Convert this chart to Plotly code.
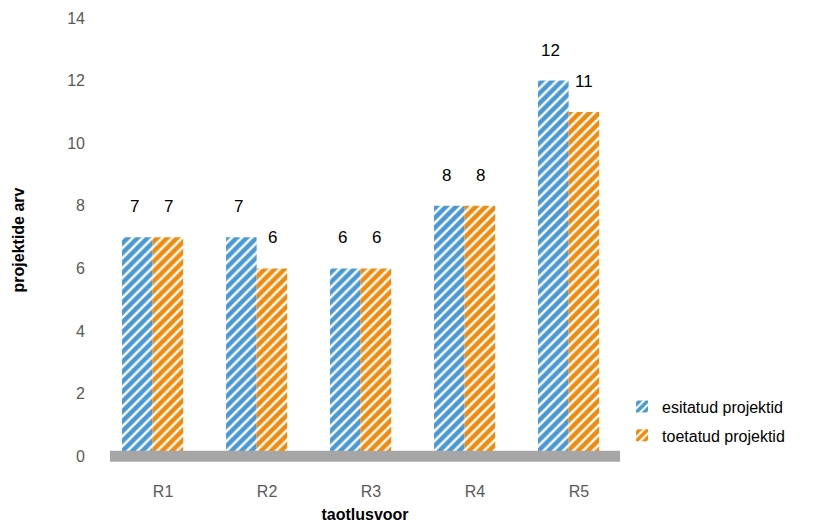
import plotly.graph_objects as go

categories = ["R1", "R2", "R3", "R4", "R5"]
submitted = [7, 7, 6, 8, 12]
supported = [7, 6, 6, 8, 11]
series_names = ["esitatud projektid", "toetatud projektid"]
y_ticks = [0, 2, 4, 6, 8, 10, 12, 14]

BLUE = "#4A98D3"
ORANGE = "#F08A0C"
GRAY_TXT = "#595959"
FONT = "Liberation Sans, Arial, sans-serif"

fig = go.Figure()
series = [(series_names[0], submitted, BLUE, -0.394), (series_names[1], supported, ORANGE, -0.10)]
for k, (name, vals, col, off) in enumerate(series):
    fig.add_trace(go.Bar(
        x=categories, y=vals, name=name, legendgroup=f"g{k}",
        offset=off, width=0.294,
        marker=dict(color="white", line=dict(width=0),
                    pattern=dict(shape="/", fgcolor=col, bgcolor="white", fgopacity=1,
                                 size=7, solidity=0.65, fillmode="overlay")),
    ))

for i, c in enumerate(categories):
    for vals, shift in [(submitted, -29), (supported, 5)]:
        fig.add_annotation(x=c, y=vals[i], xref="x", yref="y", text=str(vals[i]),
                           showarrow=False, xshift=shift, yshift=19, yanchor="bottom",
                           font=dict(size=17, color="#000000", family=FONT))

fig.add_shape(type="line", xref="paper", yref="y", x0=0, x1=1, y0=0, y1=0,
              line=dict(color="#A6A6A6", width=11), layer="above")

# page body has an 8px margin; figure sized to fit the 817x531 window
fig.update_layout(
    width=801, height=515,
    margin=dict(l=102, r=189, t=10, b=61, autoexpand=False),
    paper_bgcolor="white", plot_bgcolor="white",
    barmode="group",
    font=dict(family=FONT, size=16, color=GRAY_TXT),
    showlegend=True,
    legend=dict(x=1.004, xanchor="left", y=0.163, yanchor="top",
                font=dict(size=16, color="#000000"), tracegroupgap=5,
                itemwidth=30, traceorder="grouped"),
)
fig.update_yaxes(range=[-0.18, 14], tickvals=y_ticks, showgrid=False, zeroline=False,
                 showline=False, ticklabelstandoff=24, automargin=False,
                 tickfont=dict(size=16, color=GRAY_TXT),
                 title=dict(text="<b>projektide arv</b>", font=dict(size=16, color="#000000"), standoff=38))
fig.update_xaxes(range=[-0.51, 4.394], showgrid=False, showline=False, zeroline=False, automargin=False,
                 ticklabelstandoff=18, tickfont=dict(size=16, color=GRAY_TXT),
                 title=dict(text="<b>taotlusvoor</b>", font=dict(size=16, color="#000000"), standoff=16))

fig.write_html("out.html")
